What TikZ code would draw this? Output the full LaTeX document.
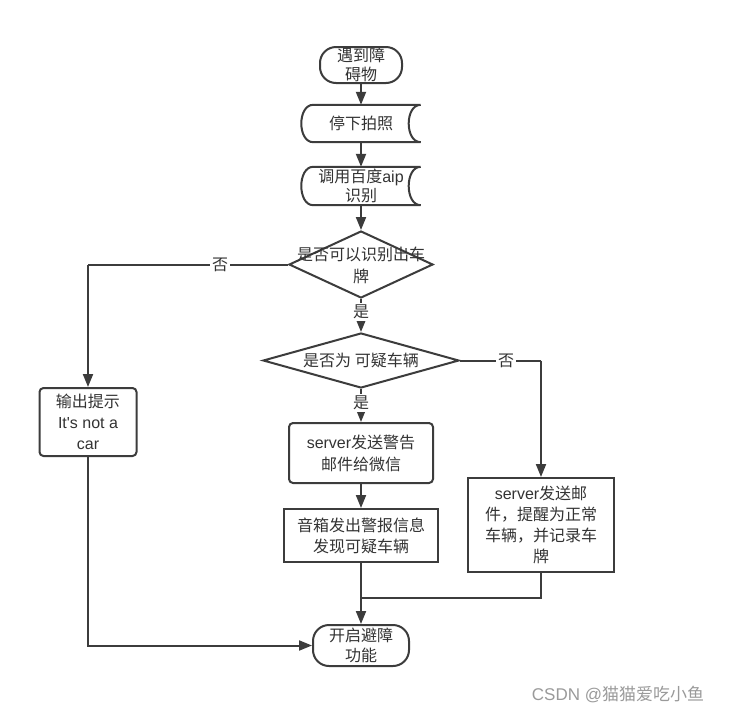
\documentclass[tikz,border=0pt]{standalone}
\usepackage{fontspec}
\setmainfont{Noto Sans CJK SC}
\newfontfamily\lat{Liberation Sans}
\usetikzlibrary{shapes.geometric,arrows.meta}
\definecolor{ln}{HTML}{3C3C3C}
\definecolor{tx}{HTML}{333333}
\definecolor{wm}{HTML}{9A9A9A}
\begin{document}
\begin{tikzpicture}[x=1pt,y=-1pt,
  base/.style={font=\fontsize{16}{21}\selectfont, text=tx, align=center, inner sep=0pt},
  tight/.style={base, font=\fontsize{16}{19}\selectfont},
  term/.style={tight, draw=ln, line width=2pt, rounded corners=16pt},
  box/.style={base, draw=ln, line width=2pt},
  rbox/.style={box, rounded corners=4pt},
  dia/.style={draw=ln, line width=2pt, diamond, inner sep=0pt},
  store/.style={tight},
  arr/.style={draw=ln, line width=2pt, -{Triangle[length=13pt,width=10pt]}},
  con/.style={draw=ln, line width=2pt},
  lbl/.style={base, fill=white, inner sep=2pt}]
\useasboundingbox[fill=white] (0,0) rectangle (729,721);

% nodes
\node[term, minimum width=82pt, minimum height=36pt] (t1) at (361,65) {遇到障\\碍物};
\node[store, minimum width=119pt, minimum height=37pt] (s1) at (361,123.5) {停下拍照};
\node[store, minimum width=119pt, minimum height=38pt] (s2) at (361,186) {调用百度{\lat aip}\\识别};
\node[dia, minimum width=144pt, minimum height=67pt] (d1) at (361,264.5) {};
\node[base, font=\fontsize{16}{22}\selectfont] (d1t) at (361,265) {是否可以识别出车\\牌};
\node[dia, minimum width=196pt, minimum height=55pt] (d2) at (361,360.5) {};
\node[base] (d2t) at (361,360) {是否为 可疑车辆};
\node[rbox, minimum width=97pt, minimum height=68pt] (b0) at (88,422) {输出提示\\{\lat It's not a}\\{\lat car}};
\node[rbox, minimum width=144pt, minimum height=60pt, font=\fontsize{16}{22}\selectfont] (b1) at (361,453) {{\lat server}发送警告\\邮件给微信};
\node[box, minimum width=154pt, minimum height=53pt] (b2) at (361,535.5) {音箱发出警报信息\\发现可疑车辆};
\node[box, minimum width=146pt, minimum height=94pt] (b3) at (541,525) {{\lat server}发送邮\\件，提醒为正常\\车辆，并记录车\\牌};
\node[term, minimum width=96pt, minimum height=41pt, font=\fontsize{16}{20}\selectfont] (t2) at (361,645.5) {开启避障\\功能};

% stored-data outlines
\foreach \s in {s1,s2}{
  \draw[con] (\s.north east) -- ([xshift=12pt]\s.north west)
    .. controls ([xshift=-4pt]\s.north west) and ([xshift=-4pt]\s.south west) .. ([xshift=12pt]\s.south west)
    -- (\s.south east)
    .. controls ([xshift=-16pt]\s.south east) and ([xshift=-16pt]\s.north east) .. (\s.north east);
}

% connectors
\coordinate (c1) at (b0.north |- d1.west);
\coordinate (c2) at (b3.north |- d2.east);
\coordinate (m) at (361,598);

\draw[arr] (t1.south) -- (s1.north);
\draw[arr] (s1.south) -- (s2.north);
\draw[arr] (s2.south) -- (d1.north);
\draw[arr] (d1.south) -- node[lbl, pos=0.4] (y1) {是} (d2.north);
\draw[arr] (d2.south) -- node[lbl, pos=0.42] (y2) {是} (b1.north);
\draw[arr] (b1.south) -- (b2.north);
\draw[arr] (b2.south) -- (t2.north);
\draw[con] (d1.west) -- node[lbl, pos=0.34] (n1) {否} (c1);
\draw[arr] (c1) -- (b0.north);
\draw[con] (d2.east) -- node[lbl, pos=0.57] (n2) {否} (c2);
\draw[arr] (c2) -- (b3.north);
\draw[arr] (b0.south) |- (t2.west);
\draw[con] (b3.south) |- (m);

% watermark
\node[base, text=wm, font=\fontsize{17}{21}\selectfont] (wmk) at (618,694) {{\lat CSDN @}猫猫爱吃小鱼};
\end{tikzpicture}
\end{document}
